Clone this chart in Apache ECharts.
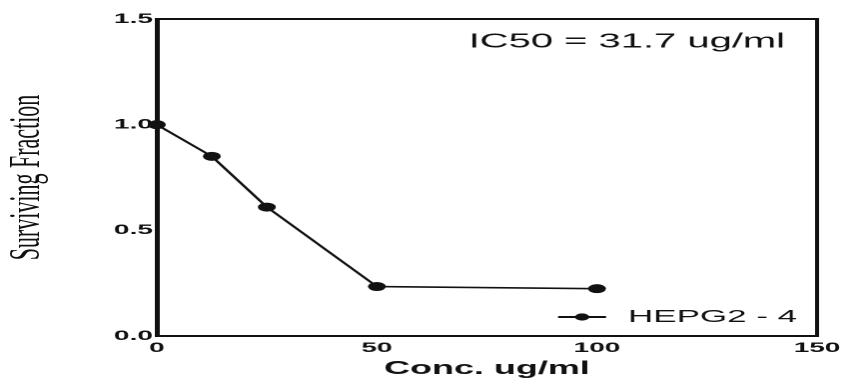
<!DOCTYPE html>
<html>
<head>
<meta charset="utf-8">
<script src="https://cdn.jsdelivr.net/npm/echarts@6/dist/echarts.min.js"></script>
<style>
html,body{margin:0;padding:0;background:#fff;}
#wrap{width:845px;height:379px;overflow:hidden;background:#fff;}
#c{width:423px;height:379px;transform:scaleX(1.99764);transform-origin:0 0;}
</style>
</head>
<body>
<div id="wrap"><div id="c"></div></div>
<script>
// Data
var concentrations = [0, 12.5, 25, 50, 100];
var survivingFraction = [1.0, 0.85, 0.61, 0.234, 0.224];
var seriesName = 'HEPG2 - 4';
var annotation = 'IC50 = 31.7 ug/ml';
var xTicks = [0, 50, 150];
var yTicks = [0, 0.5, 1.0, 1.5];

var chart = echarts.init(document.getElementById('c'), null, {devicePixelRatio: 2});
var points = concentrations.map(function (c, i) { return [c, survivingFraction[i]]; });
var ink = '#111';
var option = {
  backgroundColor: '#fff',
  animation: false,
  title: {
    text: annotation,
    right: 30,
    top: 32,
    padding: 0,
    textStyle: {fontFamily: 'Liberation Sans', fontSize: 20, fontWeight: 'normal', color: ink}
  },
  legend: {
    data: [seriesName],
    right: 24,
    top: 308,
    padding: 0,
    itemWidth: 24,
    itemHeight: 9,
    textStyle: {fontFamily: 'Liberation Sans', fontSize: 17.5, color: ink, padding: [0, 0, 0, 6]}
  },
  grid: {
    left: 78.5, right: 14, top: 19, bottom: 43,
    outerBoundsMode: 'none',
    containLabel: false,
    show: true, borderColor: ink, borderWidth: 2
  },
  xAxis: {
    type: 'value',
    min: xTicks[0], max: xTicks[xTicks.length - 1], interval: 50,
    name: 'Conc. ug/ml',
    nameLocation: 'middle',
    nameGap: 22,
    nameTextStyle: {fontFamily: 'Liberation Sans', fontSize: 18, fontWeight: 'bold', color: ink},
    axisLine: {show: true, lineStyle: {color: ink, width: 2}},
    axisTick: {show: false},
    splitLine: {show: false},
    axisLabel: {fontFamily: 'Liberation Sans', fontSize: 14, fontWeight: 'bold', color: ink, margin: 5}
  },
  yAxis: {
    type: 'value',
    min: yTicks[0], max: yTicks[yTicks.length - 1], interval: 0.5,
    name: 'Surviving Fraction',
    nameLocation: 'middle',
    nameGap: 54,
    nameRotate: 90,
    nameTextStyle: {fontFamily: 'Liberation Serif', fontSize: 22, color: ink},
    axisLine: {show: true, lineStyle: {color: ink, width: 2}},
    axisTick: {show: false},
    splitLine: {show: false},
    axisLabel: {
      fontFamily: 'Liberation Sans', fontSize: 14, fontWeight: 'bold', color: ink, margin: 2,
      formatter: function (v) { return v.toFixed(1); }
    }
  },
  series: [{
    name: seriesName,
    type: 'line',
    data: points,
    symbol: 'circle',
    symbolSize: 9,
    itemStyle: {color: ink},
    lineStyle: {color: ink, width: 1.6}
  }]
};
chart.setOption(option);
</script>
</body>
</html>
